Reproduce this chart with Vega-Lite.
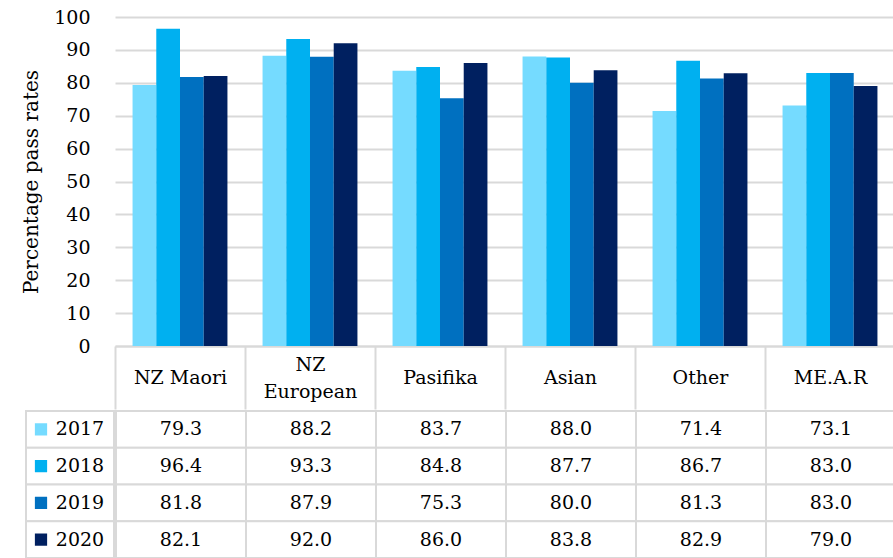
{
  "$schema": "https://vega.github.io/schema/vega-lite/v6.json",
  "padding": {"left": 21, "top": 8, "right": 0, "bottom": 0},
  "background": "white",
  "config": {"view": {"stroke": null}, "font": "DejaVu Serif", "concat": {"spacing": 0}},
  "datasets": {
    "rates": [
      {"category": "NZ Maori", "year": "2017", "value": 79.3},
      {"category": "NZ Maori", "year": "2018", "value": 96.4},
      {"category": "NZ Maori", "year": "2019", "value": 81.8},
      {"category": "NZ Maori", "year": "2020", "value": 82.1},
      {"category": "NZ European", "year": "2017", "value": 88.2},
      {"category": "NZ European", "year": "2018", "value": 93.3},
      {"category": "NZ European", "year": "2019", "value": 87.9},
      {"category": "NZ European", "year": "2020", "value": 92.0},
      {"category": "Pasifika", "year": "2017", "value": 83.7},
      {"category": "Pasifika", "year": "2018", "value": 84.8},
      {"category": "Pasifika", "year": "2019", "value": 75.3},
      {"category": "Pasifika", "year": "2020", "value": 86.0},
      {"category": "Asian", "year": "2017", "value": 88.0},
      {"category": "Asian", "year": "2018", "value": 87.7},
      {"category": "Asian", "year": "2019", "value": 80.0},
      {"category": "Asian", "year": "2020", "value": 83.8},
      {"category": "Other", "year": "2017", "value": 71.4},
      {"category": "Other", "year": "2018", "value": 86.7},
      {"category": "Other", "year": "2019", "value": 81.3},
      {"category": "Other", "year": "2020", "value": 82.9},
      {"category": "ME.A.R", "year": "2017", "value": 73.1},
      {"category": "ME.A.R", "year": "2018", "value": 83.0},
      {"category": "ME.A.R", "year": "2019", "value": 83.0},
      {"category": "ME.A.R", "year": "2020", "value": 79.0}
    ],
    "years": [
      {"year": "2017"}, {"year": "2018"}, {"year": "2019"}, {"year": "2020"}
    ]
  },
  "spacing": 0,
  "vconcat": [
    {
      "spacing": 0,
      "hconcat": [
        {
          "width": 88,
          "height": 329,
          "data": {"name": "rates"},
          "mark": {"type": "point", "opacity": 0},
          "encoding": {
            "y": {
              "field": "value", "type": "quantitative",
              "scale": {"domain": [0, 100], "nice": false},
              "axis": {
                "offset": -88, "grid": false,
                "values": [0, 10, 20, 30, 40, 50, 60, 70, 80, 90, 100],
                "title": "Percentage pass rates", "titleFontSize": 20, "titleFontWeight": "normal",
                "titleColor": "#000000", "titlePadding": 12,
                "labelFontSize": 19, "labelColor": "#000000", "labelPadding": 24,
                "ticks": false, "domain": false
              }
            }
          }
        },
        {
          "width": 780,
          "height": 329,
          "data": {"name": "rates"},
          "mark": {"type": "bar"},
          "encoding": {
            "x": {
              "field": "category", "type": "nominal",
              "sort": ["NZ Maori", "NZ European", "Pasifika", "Asian", "Other", "ME.A.R"],
              "scale": {"paddingInner": 0, "paddingOuter": 0},
              "axis": {
                "title": null, "labelAngle": 0, "tickBand": "extent", "tickSize": 63,
                "tickColor": "#d9d9d9", "tickWidth": 2, "domainColor": "#d9d9d9", "domainWidth": 2,
                "labelFontSize": 19, "labelColor": "#000000", "labelBaseline": "middle",
                "labelPadding": {"condition": {"test": "datum.value == 'NZ European'", "value": -45}, "value": -32},
                "labelLineHeight": 27, "labelLimit": 0,
                "labelFlush": false, "labelOverlap": false,
                "labelExpr": "datum.label == 'NZ European' ? ['NZ', 'European'] : datum.label"
              }
            },
            "xOffset": {
              "field": "year", "type": "nominal",
              "scale": {"paddingInner": 0, "paddingOuter": 0.74}
            },
            "y": {
              "field": "value", "type": "quantitative",
              "scale": {"domain": [0, 100], "nice": false},
              "axis": {
                "values": [0, 10, 20, 30, 40, 50, 60, 70, 80, 90, 100],
                "title": null, "labels": false, "ticks": false, "domain": false,
                "gridColor": "#d9d9d9", "gridWidth": 2
              }
            },
            "color": {
              "field": "year", "type": "nominal",
              "scale": {"domain": ["2017", "2018", "2019", "2020"], "range": ["#75DBFF", "#00B0F0", "#0070C0", "#002060"]},
              "legend": null
            }
          }
        }
      ]
    },
    {
      "spacing": 0,
      "hconcat": [
        {
          "width": 88,
          "height": 147,
          "data": {"name": "years"},
          "encoding": {
            "y": {"field": "year", "type": "nominal", "axis": null, "scale": {"paddingInner": 0, "paddingOuter": 0}}
          },
          "layer": [
            {
              "mark": {"type": "rect", "fill": "white", "stroke": "#d9d9d9", "strokeWidth": 2},
              "encoding": {
                "x": {"datum": "k", "type": "nominal", "axis": null, "scale": {"paddingInner": 0, "paddingOuter": 0}}
              }
            },
            {
              "mark": {"type": "point", "shape": "square", "filled": true, "size": 150, "opacity": 1, "xOffset": -29},
              "encoding": {
                "color": {
                  "field": "year", "type": "nominal",
                  "scale": {"domain": ["2017", "2018", "2019", "2020"], "range": ["#75DBFF", "#00B0F0", "#0070C0", "#002060"]},
                  "legend": null
                }
              }
            },
            {
              "mark": {"type": "text", "fontSize": 19, "dx": 10, "color": "#000000"},
              "encoding": {"text": {"field": "year"}}
            }
          ]
        },
        {
          "width": 780,
          "height": 147,
          "data": {"name": "rates"},
          "encoding": {
            "x": {
              "field": "category", "type": "nominal",
              "sort": ["NZ Maori", "NZ European", "Pasifika", "Asian", "Other", "ME.A.R"],
              "axis": null, "scale": {"paddingInner": 0, "paddingOuter": 0}
            },
            "y": {"field": "year", "type": "nominal", "axis": null, "scale": {"paddingInner": 0, "paddingOuter": 0}}
          },
          "layer": [
            {"mark": {"type": "rect", "fill": "white", "stroke": "#d9d9d9", "strokeWidth": 2}},
            {
              "mark": {"type": "text", "fontSize": 19, "color": "#000000"},
              "encoding": {"text": {"field": "value", "type": "quantitative", "format": ".1f"}}
            }
          ]
        }
      ]
    }
  ]
}
